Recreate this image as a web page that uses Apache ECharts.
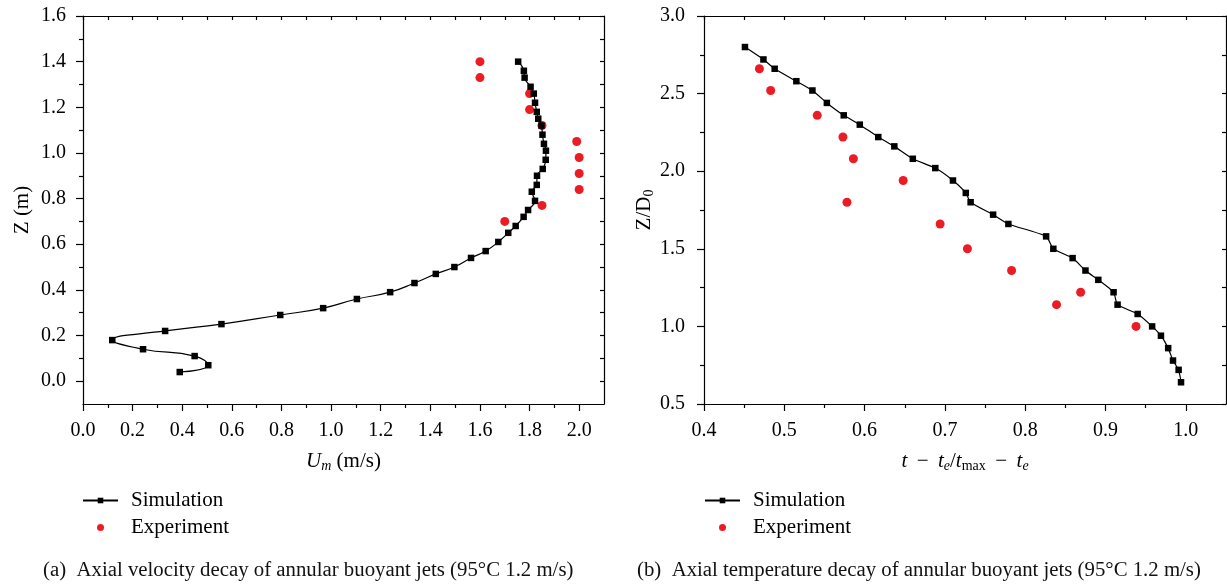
<!DOCTYPE html>
<html>
<head>
<meta charset="utf-8">
<title>Annular buoyant jets</title>
<script src="https://cdn.jsdelivr.net/npm/echarts@6/dist/echarts.min.js"></script>
<style>
  html, body { margin: 0; padding: 0; background: #fff; }
  #chart { width: 1227px; height: 584px; }
</style>
</head>
<body>
<div id="chart"></div>
<script>
// (a) axial velocity decay: U_m (m/s) against Z (m)
var velSimU = [1.754, 1.777, 1.780, 1.804, 1.817, 1.822, 1.829, 1.835, 1.848, 1.852,
  1.858, 1.866, 1.865, 1.853, 1.830, 1.829, 1.809, 1.822, 1.794, 1.776,
  1.744, 1.714, 1.674, 1.623, 1.564, 1.497, 1.422, 1.336, 1.238, 1.104,
  0.968, 0.795, 0.558, 0.331, 0.118, 0.242, 0.450, 0.505, 0.390];
var velSimZ = [1.40, 1.36, 1.33, 1.29, 1.26, 1.22, 1.18, 1.15, 1.12, 1.08,
  1.04, 1.01, 0.97, 0.93, 0.90, 0.86, 0.83, 0.79, 0.75, 0.72,
  0.68, 0.65, 0.61, 0.57, 0.54, 0.50, 0.47, 0.43, 0.39, 0.36,
  0.32, 0.29, 0.25, 0.22, 0.18, 0.14, 0.11, 0.07, 0.04];
var velExpU = [1.60, 1.60, 1.80, 1.80, 1.85, 1.99, 2.00, 2.00, 2.00, 1.85, 1.70];
var velExpZ = [1.40, 1.33, 1.26, 1.19, 1.12, 1.05, 0.98, 0.91, 0.84, 0.77, 0.70];

// (b) axial temperature decay: (t - te)/(tmax - te) against Z/D0
var tempSimT = [0.451, 0.474, 0.488, 0.515, 0.535, 0.553, 0.574, 0.594, 0.617, 0.637,
  0.660, 0.688, 0.710, 0.726, 0.732, 0.760, 0.779, 0.826, 0.835, 0.859,
  0.875, 0.891, 0.910, 0.915, 0.940, 0.958, 0.969, 0.978, 0.984, 0.991, 0.994];
var tempSimZ = [2.80, 2.72, 2.66, 2.58, 2.52, 2.44, 2.36, 2.30, 2.22, 2.16,
  2.08, 2.02, 1.94, 1.86, 1.80, 1.72, 1.66, 1.58, 1.50, 1.44,
  1.36, 1.30, 1.22, 1.14, 1.08, 1.00, 0.94, 0.86, 0.78, 0.72, 0.64];
var tempExpT = [0.469, 0.483, 0.541, 0.573, 0.586, 0.578, 0.648, 0.694, 0.728, 0.783, 0.839, 0.869, 0.938];
var tempExpZ = [2.66, 2.52, 2.36, 2.22, 2.08, 1.80, 1.94, 1.66, 1.50, 1.36, 1.14, 1.22, 1.00];

// tick labels / tick positions
var velUTicks = [0, 0.2, 0.4, 0.6, 0.8, 1.0, 1.2, 1.4, 1.6, 1.8, 2.0];
var velUMinor = [0.1, 0.3, 0.5, 0.7, 0.9, 1.1, 1.3, 1.5, 1.7, 1.9];
var velZTicks = [0, 0.2, 0.4, 0.6, 0.8, 1.0, 1.2, 1.4, 1.6];
var velZMinor = [0.1, 0.3, 0.5, 0.7, 0.9, 1.1, 1.3, 1.5];
var tempTTicks = [0.4, 0.5, 0.6, 0.7, 0.8, 0.9, 1.0];
var tempTMinor = [0.45, 0.55, 0.65, 0.75, 0.85, 0.95];
var tempZTicks = [0.5, 1.0, 1.5, 2.0, 2.5, 3.0];
var tempZMinor = [0.75, 1.25, 1.75, 2.25, 2.75];

var legendNames = ['Simulation', 'Experiment'];
var captions = [
  '(a)  Axial velocity decay of annular buoyant jets (95\u00b0C 1.2 m/s)',
  '(b)  Axial temperature decay of annular buoyant jets (95\u00b0C 1.2 m/s)'
];

var FONT = 'Liberation Serif';
var RED = '#ec1c24';

function zip(a, b) {
  return a.map(function (v, i) { return [v, b[i]]; });
}

var subRich = {
  i: { fontFamily: FONT, fontSize: 21, fontStyle: 'italic', color: '#000' },
  sub: { fontFamily: FONT, fontSize: 14, fontStyle: 'italic', color: '#000', padding: [10, 0, 0, 0] },
  subr: { fontFamily: FONT, fontSize: 14, color: '#000', padding: [10, 0, 0, 0] }
};

// main axis with labels and long outer ticks
function mainAxis(grid, pos, min, max, ticks, name, gap, margin) {
  return {
    type: 'value', gridIndex: grid, position: pos, min: min, max: max,
    splitLine: { show: false },
    axisLine: { show: true, onZero: false, lineStyle: { color: '#000', width: 1.2 } },
    axisTick: { show: true, inside: false, length: 7, customValues: ticks, lineStyle: { color: '#000', width: 1.2 } },
    axisLabel: {
      customValues: ticks, margin: margin, color: '#000', fontFamily: FONT, fontSize: 20,
      formatter: function (v) { return v.toFixed(1); }
    },
    name: name, nameLocation: 'middle', nameGap: gap,
    nameTextStyle: { fontFamily: FONT, fontSize: 21, color: '#000', rich: subRich }
  };
}

// axis used only to draw a set of ticks
function tickAxis(grid, pos, min, max, ticks, len, inside, line) {
  return {
    type: 'value', gridIndex: grid, position: pos, min: min, max: max,
    splitLine: { show: false },
    axisLine: { show: line, onZero: false, lineStyle: { color: '#000', width: 1.2 } },
    axisTick: { show: true, inside: inside, length: len, customValues: ticks, lineStyle: { color: '#000', width: 1.2 } },
    axisLabel: { show: false }
  };
}

var velUAll = velUTicks.concat(velUMinor);
var velZAll = velZTicks.concat(velZMinor);
var tempTAll = tempTTicks.concat(tempTMinor);
var tempZAll = tempZTicks.concat(tempZMinor);

function legendAt(left) {
  return {
    left: left, top: 490, orient: 'vertical', padding: 0,
    itemWidth: 35, itemHeight: 7, itemGap: 6,
    selectedMode: false, data: legendNames,
    textStyle: { fontFamily: FONT, fontSize: 21, color: '#000', padding: [0, 0, 0, 8] }
  };
}

var capStyle = { fontFamily: FONT, fontSize: 20.8, fontWeight: 'normal', color: '#111' };

var chart = echarts.init(document.getElementById('chart'));
chart.setOption({
  animation: false,
  backgroundColor: '#fff',
  title: [
    { text: captions[0], left: 43, top: 560, padding: 0, textStyle: capStyle },
    { text: captions[1], left: 637, top: 560, padding: 0, textStyle: capStyle }
  ],
  legend: [legendAt(82), legendAt(704)],
  grid: [
    { left: 83, top: 16, width: 521, height: 388 },
    { left: 704, top: 16, width: 522, height: 388 }
  ],
  xAxis: [
    mainAxis(0, 'bottom', 0, 2.1, velUTicks, '{i|U}{sub|m} (m/s)', 45, 17),
    tickAxis(0, 'bottom', 0, 2.1, velUMinor, 4, false, false),
    tickAxis(0, 'top', 0, 2.1, velUAll, 4, true, true),
    mainAxis(1, 'bottom', 0.4, 1.05, tempTTicks,
      '{i|t}\u2009 \u2212 \u2009{i|t}{sub|e}/{i|t}{subr|max}\u2009 \u2212 \u2009{i|t}{sub|e}', 45, 17),
    tickAxis(1, 'bottom', 0.4, 1.05, tempTMinor, 4, false, false),
    tickAxis(1, 'top', 0.4, 1.05, tempTAll, 4, true, true)
  ],
  yAxis: [
    mainAxis(0, 'left', -0.1, 1.6, velZTicks, 'Z (m)', 50, 17),
    tickAxis(0, 'left', -0.1, 1.6, velZMinor, 4, false, false),
    tickAxis(0, 'right', -0.1, 1.6, velZAll, 4, true, true),
    mainAxis(1, 'left', 0.5, 3.0, tempZTicks, 'Z/D{subr|0}', 25, 19),
    tickAxis(1, 'left', 0.5, 3.0, tempZMinor, 4, false, false),
    tickAxis(1, 'right', 0.5, 3.0, tempZAll, 4, true, true)
  ],
  series: [
    {
      name: 'Simulation', type: 'line', xAxisIndex: 0, yAxisIndex: 0,
      data: zip(velSimU, velSimZ), smooth: 0.5,
      symbol: 'rect', symbolSize: 6.5, showAllSymbol: true,
      lineStyle: { color: '#000', width: 1.2 }, itemStyle: { color: '#000' }
    },
    {
      name: 'Experiment', type: 'scatter', xAxisIndex: 0, yAxisIndex: 0,
      data: zip(velExpU, velExpZ), symbol: 'circle', symbolSize: 9,
      itemStyle: { color: RED, opacity: 1 }
    },
    {
      name: 'Simulation', type: 'line', xAxisIndex: 3, yAxisIndex: 3,
      data: zip(tempSimT, tempSimZ), smooth: 0.2,
      symbol: 'rect', symbolSize: 6.5, showAllSymbol: true,
      lineStyle: { color: '#000', width: 1.2 }, itemStyle: { color: '#000' }
    },
    {
      name: 'Experiment', type: 'scatter', xAxisIndex: 3, yAxisIndex: 3,
      data: zip(tempExpT, tempExpZ), symbol: 'circle', symbolSize: 9,
      itemStyle: { color: RED, opacity: 1 }
    }
  ]
});
</script>
</body>
</html>
